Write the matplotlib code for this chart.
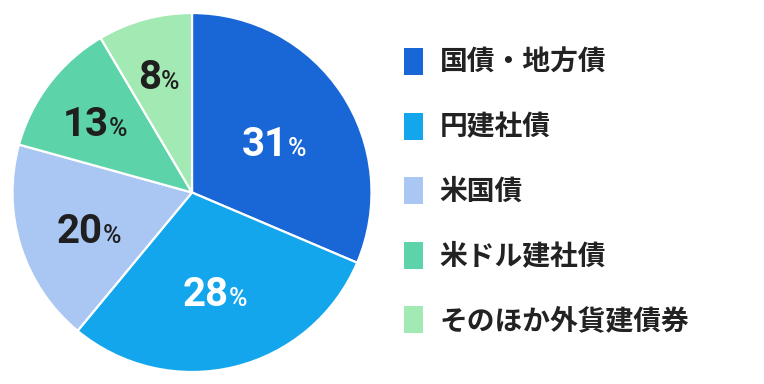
import matplotlib
matplotlib.use("Agg")
import matplotlib.pyplot as plt
from matplotlib.patches import Patch
from matplotlib.offsetbox import TextArea, HPacker, AnnotationBbox
import numpy as np

categories = ["国債・地方債", "円建社債", "米国債", "米ドル建社債", "そのほか外貨建債券"]
shares = [31.4, 29.6, 18.3, 12.2, 8.5]
# percentages as printed on the slices
labels = [31, 28, 20, 13, 8]
colors = ["#1967D6", "#14A6EC", "#AAC7F3", "#5DD3A9", "#A3E9B3"]
label_colors = ["white", "white", "#1f1f1f", "#1f1f1f", "#1f1f1f"]
label_radii = [0.55, 0.55, 0.60, 0.68, 0.70]

W, H = 764, 384
fig = plt.figure(figsize=(W / 100, H / 100), dpi=100)

# pie axes: center (192,192.5), radius ~179 px
cx, cy, r = 192, 192.5, 179.5
ax = fig.add_axes([(cx - r) / W, (H - cy - r) / H, 2 * r / W, 2 * r / H])
wedges, _ = ax.pie(shares, colors=colors, startangle=90, counterclock=False,
                   radius=1.0,
                   wedgeprops=dict(edgecolor="white", linewidth=1.6))
ax.set_xlim(-1, 1)
ax.set_ylim(-1, 1)
ax.set_aspect("equal")
ax.axis("off")

for w, v, c, rr in zip(wedges, labels, label_colors, label_radii):
    ang = np.deg2rad((w.theta1 + w.theta2) / 2)
    x, y = rr * np.cos(ang), rr * np.sin(ang)
    t1 = TextArea(str(v), textprops=dict(fontsize=29, fontweight="bold",
                                         family="Roboto", color=c))
    t2 = TextArea("%", textprops=dict(fontsize=18, fontweight="medium",
                                      family="Roboto", color=c))
    box = HPacker(children=[t1, t2], align="baseline", pad=0, sep=0)
    ab = AnnotationBbox(box, (x, y), xycoords="data",
                        xybox=(0, -5), boxcoords="offset points",
                        frameon=False, box_alignment=(0.5, 0.5), pad=0)
    ax.add_artist(ab)

handles = [Patch(facecolor=c, edgecolor="none") for c in colors]
leg = fig.legend(handles, categories, loc="center left",
                 bbox_to_anchor=(404 / W, (H - 191.5) / H),
                 frameon=False, borderpad=0, borderaxespad=0,
                 handlelength=0.68, handleheight=1.12, handletextpad=0.61,
                 labelspacing=1.28,
                 prop=dict(family=["Noto Sans CJK JP", "DejaVu Sans"],
                           weight="bold", size=20))
for t in leg.get_texts():
    t.set_color("#222222")

fig.savefig("out.png", dpi=100, facecolor="white")
